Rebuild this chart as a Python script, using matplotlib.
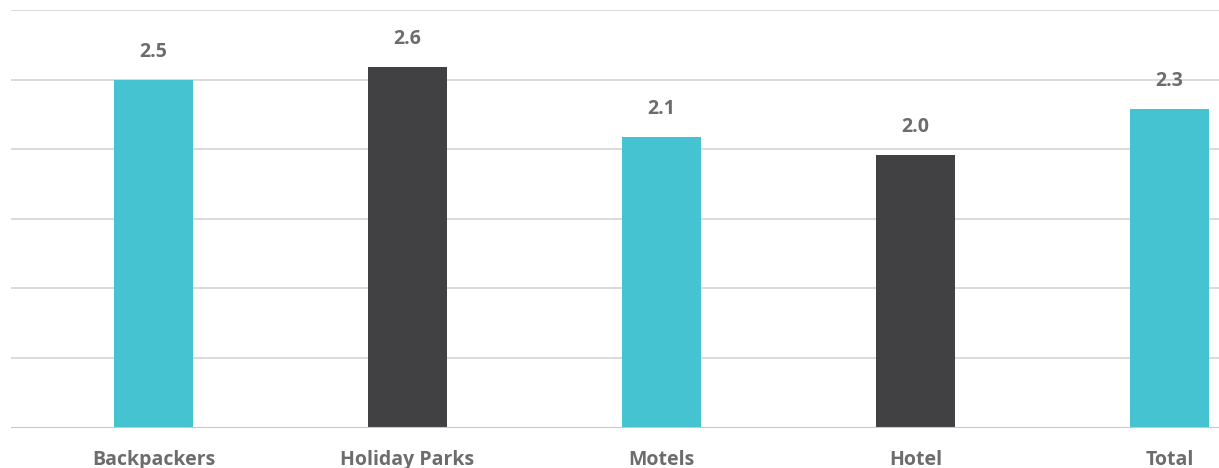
import matplotlib.pyplot as plt
import numpy as np

categories = ["Backpackers", "Holiday Parks", "Motels", "Hotel", "Total"]
values = [2.5, 2.59, 2.09, 1.96, 2.29]
colors = ["#45c3d0", "#414143", "#45c3d0", "#414143", "#45c3d0"]

plt.rcParams["font.family"] = ["Open Sans", "DejaVu Sans"]
text_color = "#6c6c6e"

fig = plt.figure(figsize=(12.19, 4.68), dpi=100)
ax = fig.add_axes([0.009, 0.0865, 0.991, 0.892])

x = np.arange(len(categories))
bars = ax.bar(x, values, width=0.311, color=colors, zorder=3)

# value labels above each bar
for rect, v in zip(bars, values):
    ax.annotate(f"{v:.1f}", xy=(rect.get_x() + rect.get_width() / 2, v),
                xytext=(0, 13), textcoords="offset points",
                ha="center", va="bottom", fontsize=14, fontweight="bold",
                color=text_color)

ax.set_ylim(0, 3.0)
ax.set_xlim(-0.561, 4.195)
ax.set_yticks(np.arange(0, 3.01, 0.5))
ax.yaxis.grid(True, color="#d4d4d4", linewidth=1.2, zorder=0)
ax.tick_params(axis="y", left=False, labelleft=False)
ax.set_xticks(x)
ax.set_xticklabels(categories, fontsize=14, fontweight="bold", color=text_color)
ax.tick_params(axis="x", length=0, pad=16)
for s in ax.spines.values():
    s.set_visible(False)
ax.axhline(0, color="#c8c8c8", linewidth=1.5, zorder=4)

fig.savefig("out.png", dpi=100)
